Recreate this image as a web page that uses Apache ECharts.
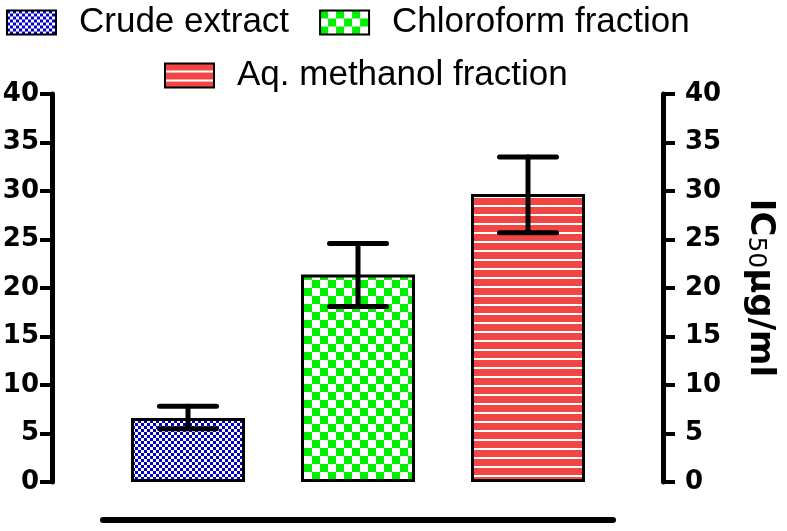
<!DOCTYPE html>
<html><head><meta charset="utf-8">
<script src="https://cdn.jsdelivr.net/npm/echarts@6/dist/echarts.min.js"></script>
<style>html,body{margin:0;padding:0;background:#fff}#c{width:787px;height:531px}</style>
</head><body><div id="c"></div>
<script>
var categories = ['Crude extract', 'Chloroform fraction', 'Aq. methanol fraction'];
var means = [6.6, 21.4, 29.7];
var errLow = [5.5, 18.1, 25.7];
var errHigh = [7.8, 24.6, 33.5];
var yTicks = [0, 5, 10, 15, 20, 25, 30, 35, 40];

function pattern(type) {
  var c = document.createElement('canvas');
  var ctx;
  if (type === 'blue') {
    c.width = 6; c.height = 6; ctx = c.getContext('2d');
    ctx.fillStyle = '#ffffff'; ctx.fillRect(0, 0, 6, 6);
    ctx.fillStyle = '#0000cc'; ctx.fillRect(0, 0, 3, 3); ctx.fillRect(3, 3, 3, 3);
  } else if (type === 'green') {
    c.width = 16; c.height = 16; ctx = c.getContext('2d');
    ctx.fillStyle = '#ffffff'; ctx.fillRect(0, 0, 16, 16);
    ctx.fillStyle = '#00ee00'; ctx.fillRect(0, 0, 8, 8); ctx.fillRect(8, 8, 8, 8);
  } else {
    c.width = 9; c.height = 9; ctx = c.getContext('2d');
    ctx.fillStyle = '#f24646'; ctx.fillRect(0, 0, 9, 9);
    ctx.fillStyle = '#ffffff'; ctx.fillRect(0, 7, 9, 2);
  }
  return { image: c, repeat: 'repeat' };
}
var fills = [pattern('blue'), pattern('green'), pattern('red')];

var chart = echarts.init(document.getElementById('c'));
var series = categories.map(function (name, i) {
  return {
    name: name, type: 'bar',
    data: categories.map(function (_, j) { return j === i ? means[j] : '-'; }),
    barWidth: 114, barGap: '-100%',
    itemStyle: { color: fills[i], borderColor: '#000', borderWidth: 3 },
    z: 2
  };
});
series.push({
  type: 'custom', name: 'err', z: 5,
  data: categories.map(function (_, j) { return [j, errLow[j], errHigh[j]]; }),
  renderItem: function (params, api) {
    var lo = api.coord([api.value(0), api.value(1)]);
    var hi = api.coord([api.value(0), api.value(2)]);
    var hw = 28.5;
    var st = { stroke: '#000', lineWidth: 5, lineCap: 'round' };
    return { type: 'group', children: [
      { type: 'line', shape: { x1: hi[0], y1: hi[1], x2: lo[0], y2: lo[1] }, style: st },
      { type: 'line', shape: { x1: hi[0] - hw, y1: hi[1], x2: hi[0] + hw, y2: hi[1] }, style: st },
      { type: 'line', shape: { x1: lo[0] - hw, y1: lo[1], x2: lo[0] + hw, y2: lo[1] }, style: st }
    ] };
  }
});

var axisFont = { fontFamily: 'DejaVu Sans', fontWeight: 'bold', fontSize: 26, color: '#000' };
function yAx(pos, off, margin, extra) {
  var a = {
    type: 'value', position: pos, offset: off, min: 0, max: 40, interval: 5,
    axisLine: { show: true, lineStyle: { color: '#000', width: 5 } },
    axisTick: { show: true, inside: false, length: 12, lineStyle: { color: '#000', width: 4 } },
    axisLabel: Object.assign({ margin: margin, formatter: function (v) { return yTicks.indexOf(v) >= 0 ? String(v) : ''; } }, axisFont),
    splitLine: { show: false }
  };
  return Object.assign(a, extra || {});
}
var legendText = { fontFamily: 'Liberation Sans, Arial', fontSize: 35, color: '#000', padding: [0, 0, 0, 18] };

chart.setOption({
  backgroundColor: '#fff',
  animation: false,
  legend: [
    { data: [categories[0], categories[1]], left: 6, top: 5, padding: 0, icon: 'rect',
      itemWidth: 49, itemHeight: 24, itemGap: 30, textStyle: legendText },
    { data: [categories[2]], left: 164, top: 58, padding: 0, icon: 'rect',
      itemWidth: 49, itemHeight: 24, textStyle: legendText }
  ],
  grid: { left: 103, right: 174, top: 94, bottom: 49, outerBoundsMode: 'none', containLabel: false },
  xAxis: {
    type: 'category', data: categories, offset: 38,
    axisLine: { show: true, onZero: false, lineStyle: { color: '#000', width: 6 } },
    axisTick: { show: false }, axisLabel: { show: false }
  },
  yAxis: [
    yAx('left', 51, 13),
    yAx('right', 50, 22, {
      name: '{a|IC}{b|50}{a|µg/ml}', nameLocation: 'middle', nameRotate: -90, nameGap: 80,
      nameTextStyle: { rich: {
        a: { fontFamily: 'DejaVu Sans', fontWeight: 'bold', fontSize: 34, color: '#000' },
        b: { fontFamily: 'DejaVu Sans', fontSize: 25, color: '#000', verticalAlign: 'bottom' }
      } }
    })
  ],
  series: series
});
</script></body></html>
